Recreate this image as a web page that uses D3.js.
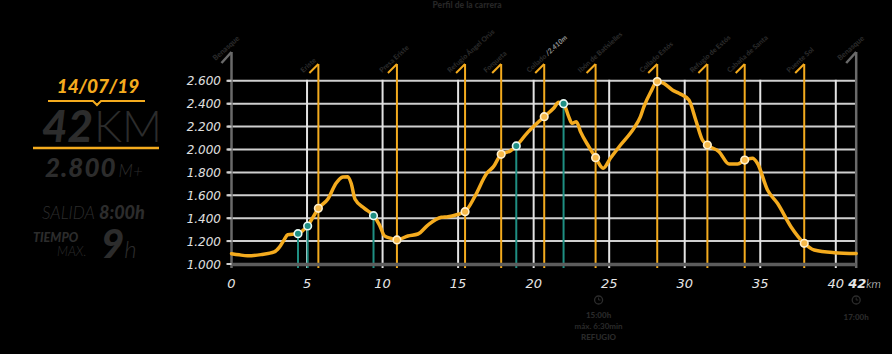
<!DOCTYPE html>
<html><head><meta charset="utf-8">
<script src="https://cdn.jsdelivr.net/npm/d3@7"></script>
<style>html,body{margin:0;padding:0;background:#000;overflow:hidden}</style>
</head><body><svg id="c" width="892" height="354"></svg>
<script>
// ---- DATA ----
const profileKm = [0,0.5,1.06,1.95,2.83,3.16,3.5,3.72,4.16,4.4,4.7,5.04,5.4,5.75,6.37,6.92,7.37,7.7,7.92,8.18,8.8,9.4,9.8,10.13,10.57,10.95,11.68,12.34,13.0,13.89,14.33,14.9,15.46,16.1,16.9,17.34,17.85,18.45,18.85,19.55,20.1,20.7,21.32,21.66,21.98,22.32,22.54,22.83,23.1,23.65,24.1,24.6,25.08,25.75,26.63,27.07,27.3,27.74,28.18,28.62,29.18,29.62,30.28,30.73,31.17,31.5,32.27,32.94,33.5,33.97,34.48,34.81,35.48,36.14,37.03,37.91,38.57,39.9,41.35];
const profileElev = [1090,1080,1072,1082,1105,1145,1215,1255,1262,1265,1290,1332,1410,1486,1565,1705,1760,1763,1705,1565,1486,1422,1340,1245,1224,1210,1245,1262,1340,1408,1413,1430,1457,1588,1792,1850,1958,1987,2031,2141,2214,2287,2360,2412,2400,2287,2229,2243,2156,2025,1929,1836,1923,2039,2185,2287,2374,2500,2593,2578,2520,2491,2432,2258,2083,2039,1981,1873,1873,1908,1923,1880,1646,1530,1326,1181,1122,1099,1092];
const checkpointKm = [5.75,10.95,15.46,17.85,20.7,24.1,28.18,31.5,33.97,37.91];
const checkpointElev = [1486,1210,1457,1958,2287,1929,2593,2039,1908,1181];
const checkpointNames = ["Eriste","Presa Eriste","Refugio Ángel Orús","Forqueta","Collado","Ibón de Batisielles","Collado Estós","Refugio de Estós","Cabaña de Santa","Puente Sol"];
const waterKm = [4.4,5.04,9.4,18.85,21.98];
const waterElev = [1265,1332,1422,2031,2400];
const endKm = [0,41.35];
const endNames = ["Benasque","Benasque"];
const xTicks = [0,5,10,15,20,25,30,35,40];
const xTickLabels = ["0","5","10","15","20","25","30","35","40"];
const yTicks = [1000,1200,1400,1600,1800,2000,2200,2400,2600];
const yTickLabels = ["1.000","1.200","1.400","1.600","1.800","2.000","2.200","2.400","2.600"];

// ---- CHART ----
const svg = d3.select("#c");
const x = d3.scaleLinear().domain([0,40]).range([231.5,835.8]);
const y = d3.scaleLinear().domain([1000,2600]).range([264,80.8]);
const ORANGE = "#f4ab1e", TEAL = "#1f8f83", DARK = "#2c2c2c", LBL = "#2a2a2a";
const xL = x(0), xR = x(endKm[1]);

// title
svg.append("text").attr("x",467).attr("y",8).attr("text-anchor","middle")
  .attr("font-family","Lato").attr("font-weight",900).attr("font-size",8.5).attr("fill","#262626")
  .text("Perfil de la carrera");

// horizontal grid
svg.append("g").selectAll("line").data(yTicks.slice(1)).join("line")
  .attr("x1",xL-4).attr("x2",xR).attr("y1",d=>y(d)).attr("y2",d=>y(d))
  .attr("stroke","#cfcfcf").attr("stroke-width",2);

// white vertical grid
svg.append("g").selectAll("line").data(xTicks.slice(1)).join("line")
  .attr("x1",d=>x(d)).attr("x2",d=>x(d)).attr("y1",y(2600)-1).attr("y2",268)
  .attr("stroke","#e4e4e4").attr("stroke-width",2);

// end flags (gray)
const endG = svg.append("g");
endKm.forEach((k,i)=>{
  const xx = x(k);
  endG.append("line").attr("x1",xx).attr("x2",xx).attr("y1",52).attr("y2",268)
    .attr("stroke","#6a6a6a").attr("stroke-width",2.5);
  endG.append("line").attr("x1",xx).attr("x2",xx-10).attr("y1",52).attr("y2",63)
    .attr("stroke","#6a6a6a").attr("stroke-width",2.5);
  endG.append("text").attr("transform",`translate(${xx-16},61) rotate(-42)`)
    .attr("font-family","Lato").attr("font-weight",900).attr("font-size",7.5).attr("fill",LBL)
    .text(endNames[i]);
});

// checkpoint flags (orange)
const cpG = svg.append("g");
checkpointKm.forEach((k,i)=>{
  const xx = x(k);
  cpG.append("line").attr("x1",xx).attr("x2",xx).attr("y1",64).attr("y2",268)
    .attr("stroke",ORANGE).attr("stroke-width",2);
  cpG.append("line").attr("x1",xx).attr("x2",xx-9).attr("y1",64).attr("y2",73)
    .attr("stroke",ORANGE).attr("stroke-width",2);
  const t = cpG.append("text").attr("transform",`translate(${xx-15},73) rotate(-42)`)
    .attr("font-family","Lato").attr("font-weight",900).attr("font-size",7).attr("fill",LBL)
    .text(checkpointNames[i]);
  if (i===4) t.append("tspan").attr("fill","#8a8a8a").attr("font-style","italic").text(" /2.410m");
});

// water points (teal) lines
svg.append("g").selectAll("line").data(waterKm).join("line")
  .attr("x1",d=>x(d)).attr("x2",d=>x(d)).attr("y1",(d,i)=>y(waterElev[i])).attr("y2",268)
  .attr("stroke",TEAL).attr("stroke-width",2);

// bottom axis line
svg.append("line").attr("x1",xL).attr("x2",xR).attr("y1",264.5).attr("y2",264.5)
  .attr("stroke","#5c5c5c").attr("stroke-width",3.5);

// left tick marks
svg.append("g").selectAll("line").data(yTicks).join("line")
  .attr("x1",xL-5).attr("x2",xL).attr("y1",d=>y(d)).attr("y2",d=>y(d))
  .attr("stroke","#cfcfcf").attr("stroke-width",2);

// profile
const pts = profileKm.map((k,i)=>[k,profileElev[i]]);
svg.append("path").datum(pts)
  .attr("d", d3.line().x(d=>x(d[0])).y(d=>y(d[1])).curve(d3.curveMonotoneX))
  .attr("fill","none").attr("stroke",ORANGE).attr("stroke-width",3.5)
  .attr("stroke-linejoin","round").attr("stroke-linecap","round");

// markers
svg.append("g").selectAll("circle").data(checkpointKm).join("circle")
  .attr("cx",d=>x(d)).attr("cy",(d,i)=>y(checkpointElev[i])).attr("r",3.8)
  .attr("fill","#f6b94a").attr("stroke","#fff1cf").attr("stroke-width",1.6);
svg.append("g").selectAll("circle").data(waterKm).join("circle")
  .attr("cx",d=>x(d)).attr("cy",(d,i)=>y(waterElev[i])).attr("r",3.8)
  .attr("fill",TEAL).attr("stroke","#eafaf5").attr("stroke-width",1.6);

// y labels
svg.append("g").selectAll("text").data(yTicks).join("text")
  .attr("x",221).attr("y",d=>y(d)+4.5).attr("text-anchor","end")
  .attr("font-family","DejaVu Sans").attr("font-style","italic").attr("font-size",12)
  .attr("fill","#e0e0e0").text((d,i)=>yTickLabels[i]);

// x labels
svg.append("g").selectAll("text").data(xTicks).join("text")
  .attr("x",d=>x(d)).attr("y",288).attr("text-anchor","middle")
  .attr("font-family","DejaVu Sans").attr("font-style","italic").attr("font-size",13)
  .attr("fill","#e6e6e6").text((d,i)=>xTickLabels[i]);
const fin = svg.append("text").attr("x",xR-8).attr("y",288)
  .attr("font-family","DejaVu Sans").attr("font-style","italic").attr("font-size",13).attr("fill","#e6e6e6");
fin.append("tspan").attr("font-weight","bold").text("42");
fin.append("tspan").attr("font-size",12).attr("font-family","Lato").attr("font-weight",300).text("km");

// bottom annotations
function clock(cx,cy){
  svg.append("circle").attr("cx",cx).attr("cy",cy).attr("r",4).attr("fill","none").attr("stroke","#2c2c2c").attr("stroke-width",1.3);
  svg.append("path").attr("d",`M${cx},${cy-2.5}V${cy}H${cx+2}`).attr("fill","none").attr("stroke","#2c2c2c").attr("stroke-width",1);
}
const ann1x = x(checkpointKm[5])+3, ann2x = xR;
clock(ann1x,300); clock(ann2x,300);
const annTxt = [[ann1x,318,"15:00h",900],[ann1x,329,"máx. 6:30min",700],[ann1x,340,"REFUGIO",900],[ann2x,320,"17:00h",900]];
annTxt.forEach(a=>svg.append("text").attr("x",a[0]).attr("y",a[1]).attr("text-anchor","middle")
  .attr("font-family","Lato").attr("font-weight",a[3]).attr("font-size",8).attr("fill","#2a2a2a").text(a[2]));

// ---- LEFT PANEL ----
const lp = svg.append("g");
lp.append("text").attr("x",98).attr("y",93).attr("text-anchor","middle")
  .attr("font-family","Lato").attr("font-weight",900).attr("font-style","italic").attr("font-size",19)
  .attr("fill",ORANGE).text("14/07/19");
lp.append("path").attr("d","M48,101H93L97,105L101,101H145").attr("fill","none").attr("stroke",ORANGE).attr("stroke-width",2);
const km = lp.append("text").attr("x",42).attr("y",142).attr("font-family","Lato").attr("font-size",44).attr("fill",DARK);
km.append("tspan").attr("font-weight",900).attr("font-style","italic").text("42");
km.append("tspan").attr("font-weight",300).attr("dx",1).text("KM");
lp.append("line").attr("x1",33).attr("x2",159).attr("y1",148).attr("y2",148).attr("stroke",ORANGE).attr("stroke-width",2.5);
const dp = lp.append("text").attr("x",45).attr("y",177).attr("font-family","Lato").attr("fill",DARK);
dp.append("tspan").attr("font-weight",900).attr("font-style","italic").attr("font-size",26).attr("letter-spacing",1).text("2.800");
dp.append("tspan").attr("font-weight",300).attr("font-style","italic").attr("font-size",17).attr("dx",2).text("M+");
const sal = lp.append("text").attr("x",42).attr("y",219).attr("font-family","Lato").attr("font-style","italic").attr("fill",DARK);
sal.append("tspan").attr("font-weight",300).attr("font-size",17).text("SALIDA");
sal.append("tspan").attr("font-weight",900).attr("font-size",18).attr("dx",4).text("8:00h");
lp.append("text").attr("x",33).attr("y",242).attr("font-family","Lato").attr("font-style","italic").attr("font-weight",900)
  .attr("font-size",12.5).attr("fill",DARK).text("TIEMPO");
lp.append("text").attr("x",57).attr("y",256).attr("font-family","Lato").attr("font-style","italic").attr("font-weight",300)
  .attr("font-size",13).attr("fill",DARK).text("MAX.");
const nine = lp.append("text").attr("x",101).attr("y",258).attr("font-family","Lato").attr("font-style","italic").attr("fill",DARK);
nine.append("tspan").attr("font-weight",900).attr("font-size",40).text("9");
nine.append("tspan").attr("font-weight",300).attr("font-size",24).text("h");
</script></body></html>
